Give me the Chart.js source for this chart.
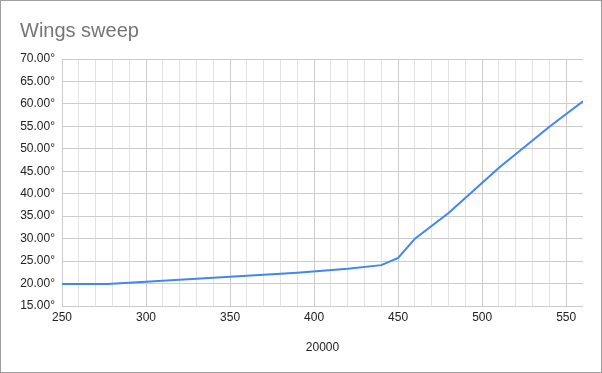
<!DOCTYPE html>
<html>
<head>
<meta charset="utf-8">
<script src="https://cdn.jsdelivr.net/npm/chart.js@4"></script>
<style>
  html, body { margin: 0; padding: 0; background: #fff; }
  .chart-box {
    width: 602px; height: 373px; box-sizing: border-box;
    border: 1px solid #9e9e9e; background: #fff;
  }
  canvas { display: block; }
</style>
</head>
<body>
<div class="chart-box">
  <canvas id="sweepChart" width="600" height="371"></canvas>
</div>
<script>
// dati
const speeds = [250, 277, 300, 350, 390, 420, 440, 450, 460, 480, 510, 540, 560];
const sweepDeg = [19.9, 19.9, 20.4, 21.5, 22.4, 23.3, 24.1, 25.7, 30.0, 35.7, 45.8, 54.9, 60.6];
const xTickStep = 10;
const xLabelStep = 50;
const yTickStep = 5;
const chartTitle = 'Wings sweep';
const xAxisTitle = '20000';

const FONT = "'Liberation Sans', Arial, sans-serif";

document.addEventListener('DOMContentLoaded', function() {
    const canvas = document.getElementById('sweepChart');

    const points = speeds.map((s, i) => ({ x: s, y: sweepDeg[i] }));

    new Chart(canvas, {
        type: 'line',
        data: {
            datasets: [{
                label: 'Sweep',
                data: points,
                borderColor: '#4285f4',
                borderWidth: 2,
                pointRadius: 0,
                tension: 0,
                fill: false
            }]
        },
        options: {
            responsive: false,
            animation: false,
            layout: { padding: { left: 19, right: 18, top: 0, bottom: 17 } },
            plugins: {
                legend: { display: false },
                tooltip: { enabled: false },
                title: {
                    display: true,
                    text: chartTitle,
                    align: 'start',
                    color: '#757575',
                    font: { family: FONT, size: 20, weight: 'normal' },
                    padding: { top: 18, bottom: 16 }
                }
            },
            scales: {
                x: {
                    type: 'linear',
                    min: 250,
                    max: 560,
                    ticks: {
                        stepSize: xTickStep,
                        autoSkip: false,
                        maxRotation: 0,
                        color: '#222',
                        padding: 4,
                        font: { family: FONT, size: 12 },
                        callback: v => (v % xLabelStep === 0 ? String(v) : '')
                    },
                    grid: {
                        drawTicks: false,
                        color: ctx => {
                            const v = ctx.tick ? ctx.tick.value : 0;
                            if (v === 560) return 'rgba(0,0,0,0)';
                            return v % xLabelStep === 0 ? '#cccccc' : '#e3e3e3';
                        }
                    },
                    border: { display: false },
                    title: {
                        display: true,
                        text: xAxisTitle,
                        color: '#222',
                        font: { family: FONT, size: 12 },
                        padding: { top: 14, bottom: 0 }
                    },
                    afterFit: scale => { scale.height = 49; }
                },
                y: {
                    min: 15,
                    max: 70,
                    ticks: {
                        stepSize: yTickStep,
                        color: '#222',
                        padding: 7,
                        font: { family: FONT, size: 12 },
                        callback: v => v.toFixed(2) + '°'
                    },
                    grid: { drawTicks: false, color: '#cccccc' },
                    border: { display: false },
                    afterFit: scale => { scale.width = 42; }
                }
            }
        }
    });
});
</script>
</body>
</html>
